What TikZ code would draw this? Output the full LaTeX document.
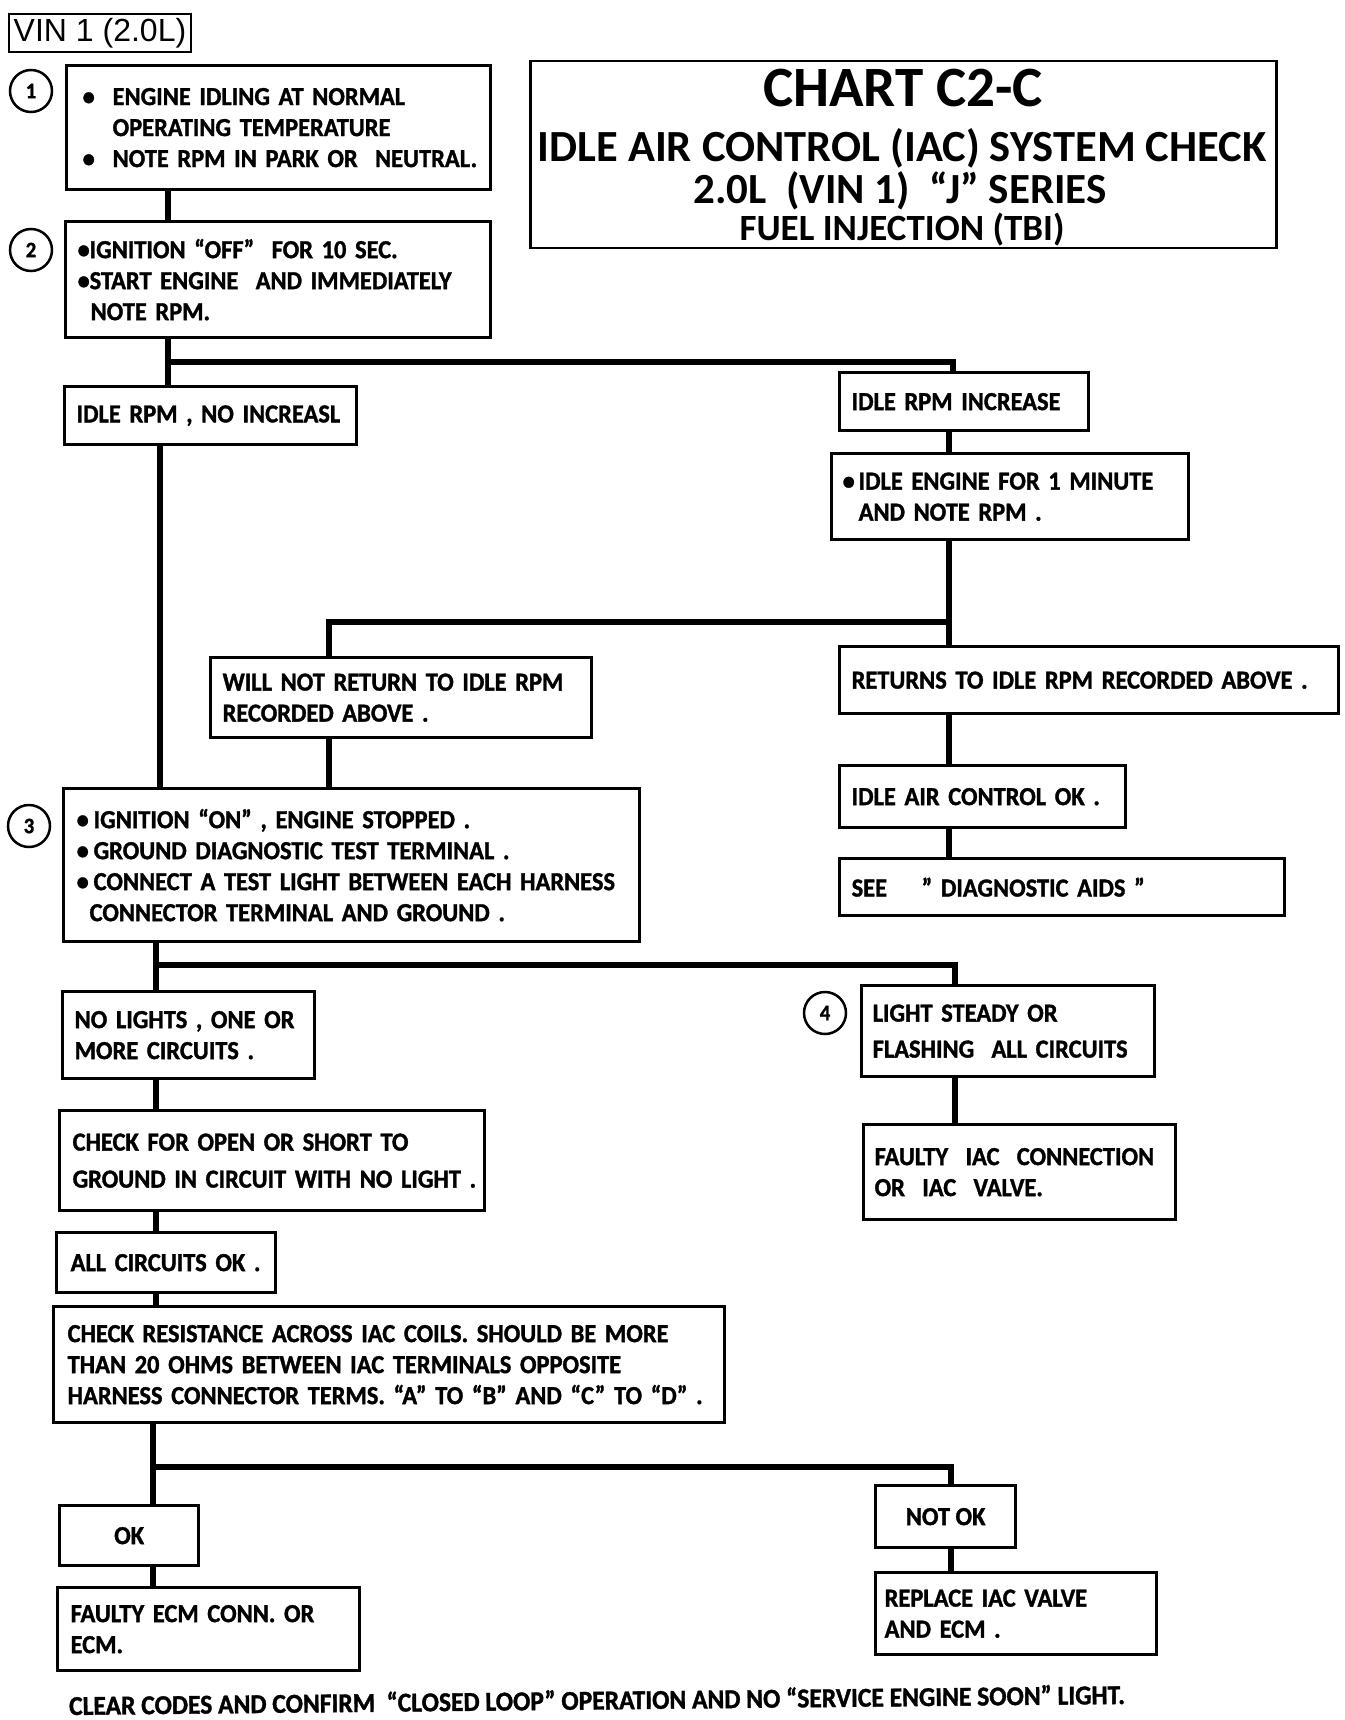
\documentclass[tikz,border=0pt]{standalone}
\usepackage{fontspec}
\setmainfont{Carlito}
\newfontfamily\condf{Carlito Bold}[FakeStretch=0.94, FakeBold=1.3]
\newfontfamily\arialf{Liberation Sans}
\begin{document}
\begin{tikzpicture}[x=1pt,y=-1pt,
  box/.style={draw, line width=3.3pt, anchor=north west, align=left, inner ysep=0pt,
    font=\condf\fontsize{26}{31}\selectfont},
  cbox/.style={draw, line width=3.3pt, anchor=north west, align=center, inner sep=0pt,
    font=\condf\fontsize{26}{31}\selectfont},
  conn/.style={line width=6.5pt, line join=miter},
  circ/.style={draw, circle, line width=2.5pt, minimum size=42pt, inner sep=0pt,
    font=\condf\fontsize{22}{24}\selectfont},
  ttl/.style={anchor=base, inner sep=0pt}]
\useasboundingbox (0,0) rectangle (1344,1720);
\fill[white] (0,0) rectangle (1344,1720);

% header
\node[draw, line width=2pt, anchor=north west, minimum width=182pt, minimum height=38pt, inner sep=0pt,
  font=\arialf\fontsize{32}{36}\selectfont] (vin) at (8,13) {VIN 1 (2.0L)};
\node[draw, line width=2.5pt, anchor=north west, minimum width=746pt, minimum height=187pt, inner sep=0pt] (title) at (529,60) {};
\node[ttl, font=\bfseries\fontsize{57}{62}\selectfont] (t1) at (903,107) {CHART C2-C};
\node[ttl, font=\bfseries\fontsize{44.5}{50}\selectfont] (t2) at (902,162) {IDLE AIR CONTROL (IAC) SYSTEM CHECK};
\node[ttl, font=\bfseries\fontsize{43}{48}\selectfont] (t3) at (900,204) {2.0L\ \ (VIN 1)\ \ “J” SERIES};
\node[ttl, font=\bfseries\fontsize{37}{42}\selectfont] (t4) at (902,241) {FUEL INJECTION (TBI)};

% step circles
\node[circ] (c1) at (31,91) {1};
\node[circ] (c2) at (31,250) {2};
\node[circ] (c3) at (29,826) {3};
\node[circ] (c4) at (825,1013) {4};

% boxes
\node[box, minimum width=424pt, minimum height=124pt, inner xsep=16pt, text width=392pt] (b1) at (65,64)
 {\mbox{\makebox[30pt][l]{•}ENGINE IDLING AT NORMAL}\\\mbox{\hspace*{30pt}OPERATING TEMPERATURE}\\\mbox{\makebox[30pt][l]{•}NOTE RPM IN PARK OR\ \ NEUTRAL.}};
\node[box, minimum width=425pt, minimum height=116pt, inner xsep=12pt, text width=401pt] (b2) at (64,220)
 {\mbox{\makebox[12pt][l]{•}IGNITION “OFF”\ \ FOR 10 SEC.}\\\mbox{\makebox[12pt][l]{•}START ENGINE\ \ AND IMMEDIATELY}\\\mbox{\hspace*{13pt}NOTE RPM.}};
\node[box, minimum width=292pt, minimum height=58pt, inner xsep=12pt, text width=268pt] (b3) at (63,385)
 {\mbox{IDLE RPM , NO INCREASL}};
\node[box, minimum width=249pt, minimum height=58pt, inner xsep=12pt, text width=225pt] (b4) at (838,371)
 {\mbox{IDLE RPM INCREASE}};
\node[box, minimum width=357pt, minimum height=86pt, inner xsep=11pt, text width=335pt] (b5) at (830,452)
 {\mbox{\makebox[16pt][l]{•}IDLE ENGINE FOR 1 MINUTE}\\\mbox{\hspace*{16pt}AND NOTE RPM .}};
\node[box, minimum width=381pt, minimum height=80pt, inner xsep=12pt, text width=357pt] (b6) at (209,656)
 {\mbox{WILL NOT RETURN TO IDLE RPM}\\\mbox{RECORDED ABOVE .}};
\node[box, minimum width=499pt, minimum height=67pt, inner xsep=12pt, text width=475pt] (b7) at (838,645)
 {\mbox{RETURNS TO IDLE RPM RECORDED ABOVE .}};
\node[box, minimum width=286pt, minimum height=62pt, inner xsep=12pt, text width=262pt] (b8) at (838,764)
 {\mbox{IDLE AIR CONTROL OK .}};
\node[box, minimum width=445pt, minimum height=57pt, inner xsep=12pt, text width=421pt] (b9) at (838,857)
 {\mbox{SEE\ \ \ \ ” DIAGNOSTIC AIDS ”}};
\node[box, minimum width=576pt, minimum height=153pt, inner xsep=13pt, text width=550pt] (b10) at (62,787)
 {\mbox{\makebox[17pt][l]{•}IGNITION “ON” , ENGINE STOPPED .}\\\mbox{\makebox[17pt][l]{•}GROUND DIAGNOSTIC TEST TERMINAL .}\\\mbox{\makebox[17pt][l]{•}CONNECT A TEST LIGHT BETWEEN EACH HARNESS}\\\mbox{\hspace*{13pt}CONNECTOR TERMINAL AND GROUND .}};
\node[box, minimum width=252pt, minimum height=87pt, inner xsep=12pt, text width=228pt] (b11) at (61,990)
 {\mbox{NO LIGHTS , ONE OR}\\\mbox{MORE CIRCUITS .}};
\node[box, minimum width=293pt, minimum height=91pt, inner xsep=11pt, text width=271pt] (b12) at (860,984)
 {\mbox{LIGHT STEADY OR}\\[5pt]\mbox{FLASHING\ \ ALL CIRCUITS}};
\node[box, minimum width=425pt, minimum height=100pt, inner xsep=13pt, text width=399pt] (b13) at (58,1109)
 {\mbox{CHECK FOR OPEN OR SHORT TO}\\[6pt]\mbox{GROUND IN CIRCUIT WITH NO LIGHT .}};
\node[box, minimum width=312pt, minimum height=95pt, inner xsep=11pt, text width=290pt] (b14) at (862,1123)
 {\mbox{FAULTY\ \ IAC\ \ CONNECTION}\\\mbox{OR\ \ IAC\ \ VALVE.}};
\node[box, minimum width=219pt, minimum height=60pt, inner xsep=14pt, text width=191pt] (b15) at (55,1231)
 {\mbox{ALL CIRCUITS OK .}};
\node[box, minimum width=671pt, minimum height=116pt, inner xsep=14pt, text width=643pt] (b16) at (52,1305)
 {\mbox{CHECK RESISTANCE ACROSS IAC COILS. SHOULD BE MORE}\\\mbox{THAN 20 OHMS BETWEEN IAC TERMINALS OPPOSITE}\\\mbox{HARNESS CONNECTOR TERMS. “A” TO “B” AND “C” TO “D” .}};
\node[cbox, minimum width=139pt, minimum height=60pt] (b17) at (58,1504) {OK};
\node[cbox, minimum width=140pt, minimum height=62pt] (b18) at (874,1484) {NOT OK};
\node[box, minimum width=302pt, minimum height=83pt, inner xsep=13pt, text width=276pt] (b19) at (56,1586)
 {\mbox{FAULTY ECM CONN. OR}\\\mbox{ECM.}};
\node[box, minimum width=281pt, minimum height=82pt, inner xsep=9pt, text width=263pt] (b20) at (874,1571)
 {\mbox{REPLACE IAC VALVE}\\\mbox{AND ECM .}};

\node[anchor=base west, inner sep=0pt, rotate=0.6, font=\condf\fontsize{27.2}{32}\selectfont] (foot) at (69,1715)
 {CLEAR CODES AND CONFIRM\ \ “CLOSED LOOP” OPERATION AND NO “SERVICE ENGINE SOON” LIGHT.};

% connectors
\coordinate (xa) at (168,0);
\coordinate (j1) at (168,362);
\coordinate (j1r) at (953,362);
\coordinate (xb) at (949,0);
\coordinate (j2) at (949,622);
\coordinate (j2l) at (329,622);
\coordinate (xc) at (160,0);
\coordinate (j3) at (156,965);
\coordinate (j3r) at (955,965);
\coordinate (j4) at (153,1467);
\coordinate (j4r) at (951,1467);

\draw[conn] (b1.south -| xa) -- (b2.north -| xa);
\draw[conn] (b2.south -| j1) -- (b3.north -| j1);
\draw[conn] (j1) -- (j1r) -- (b4.north -| j1r);
\draw[conn] (b4.south -| xb) -- (b5.north -| xb);
\draw[conn] (b5.south -| xb) -- (b7.north -| xb);
\draw[conn] (j2) -- (j2l) -- (b6.north -| j2l);
\draw[conn] (b3.south -| xc) -- (b10.north -| xc);
\draw[conn] (b6.south -| j2l) -- (b10.north -| j2l);
\draw[conn] (b7.south -| xb) -- (b8.north -| xb);
\draw[conn] (b8.south -| xb) -- (b9.north -| xb);
\draw[conn] (b10.south -| j3) -- (b11.north -| j3);
\draw[conn] (j3) -- (j3r) -- (b12.north -| j3r);
\draw[conn] (b11.south -| j3) -- (b13.north -| j3);
\draw[conn] (b12.south -| j3r) -- (b14.north -| j3r);
\draw[conn] (b13.south -| j3) -- (b15.north -| j3);
\draw[conn] (b15.south -| j3) -- (b16.north -| j3);
\draw[conn] (b16.south -| j4) -- (b17.north -| j4);
\draw[conn] (j4) -- (j4r) -- (b18.north -| j4r);
\draw[conn] (b17.south -| j4) -- (b19.north -| j4);
\draw[conn] (b18.south -| j4r) -- (b20.north -| j4r);
\end{tikzpicture}
\end{document}
